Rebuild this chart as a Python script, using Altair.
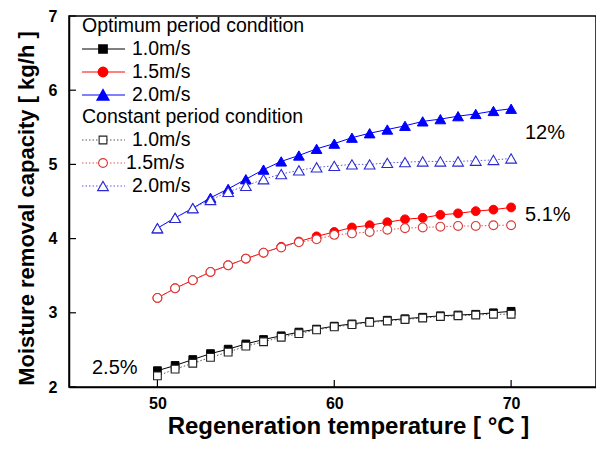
import altair as alt
import pandas as pd

# ---------------- data ----------------
temps = list(range(50, 71))

opt_10 = [2.22, 2.29, 2.37, 2.45, 2.51, 2.58, 2.64, 2.69, 2.74, 2.78, 2.82,
          2.85, 2.88, 2.90, 2.92, 2.94, 2.96, 2.97, 2.98, 3.00, 3.02]
opt_15 = [3.20, 3.33, 3.44, 3.55, 3.64, 3.73, 3.81, 3.89, 3.96, 4.03, 4.09,
          4.15, 4.18, 4.22, 4.26, 4.28, 4.32, 4.34, 4.37, 4.39, 4.42]
opt_20 = [4.14, 4.28, 4.41, 4.55, 4.67, 4.80, 4.93, 5.04, 5.12, 5.21, 5.28,
          5.36, 5.42, 5.47, 5.52, 5.58, 5.61, 5.65, 5.68, 5.72, 5.75]

con_10 = [2.15, 2.24, 2.32, 2.40, 2.47, 2.55, 2.61, 2.67, 2.72, 2.77, 2.81,
          2.84, 2.87, 2.89, 2.91, 2.93, 2.95, 2.96, 2.97, 2.98, 2.98]
con_15 = [3.20, 3.33, 3.44, 3.55, 3.64, 3.73, 3.81, 3.88, 3.95, 3.99, 4.05,
          4.07, 4.09, 4.12, 4.14, 4.15, 4.16, 4.17, 4.17, 4.18, 4.18]
con_20 = [4.14, 4.28, 4.41, 4.52, 4.63, 4.71, 4.80, 4.87, 4.92, 4.96, 4.98,
          5.00, 5.00, 5.02, 5.03, 5.04, 5.04, 5.04, 5.05, 5.06, 5.08]

speed_labels = ["1.0m/s", "1.5m/s", "2.0m/s"]
group_titles = ["Optimum period condition", "Constant period condition"]
percent_labels = ["12%", "5.1%", "2.5%"]
x_tick_values = [50, 60, 70]
y_tick_values = [2, 3, 4, 5, 6, 7]

X_TITLE = "Regeneration temperature [ °C ]"
Y_TITLE = "Moisture removal capacity [ kg/h ]"

# ---------------- styling ----------------
FONT = "Liberation Sans"
W, H = 527, 371
xscale = alt.Scale(domain=[45, 74.8], nice=False, zero=False)
yscale = alt.Scale(domain=[2, 7], nice=False, zero=False)

x_axis = alt.Axis(values=x_tick_values, title=X_TITLE, grid=False,
                  ticks=False, tickSize=0, labelPadding=8,
                  labelFont=FONT, labelFontSize=16, labelFontWeight="bold",
                  labelColor="black", titleFont=FONT, titleFontSize=24,
                  titleFontWeight="bold", titleColor="black", titlePadding=3,
                  titleX=279,
                  domainColor="black", domainWidth=1.5, labelFlush=False)
y_axis = alt.Axis(values=y_tick_values, title=Y_TITLE, grid=False,
                  ticks=False, tickSize=0, labelPadding=12,
                  labelFont=FONT, labelFontSize=16, labelFontWeight="bold",
                  labelColor="black", titleFont=FONT, titleFontSize=22,
                  titleFontWeight="bold", titleColor="black", titlePadding=10,
                  titleY=192,
                  domainColor="black", domainWidth=1.5, labelFlush=False)

opt_colors = ["#000000", "#ff0000", "#0000ff"]
con_line_colors = ["#555555", "#e05a5a", "#5a5ae0"]
con_marker_colors = ["#222222", "#d83a3a", "#2a2ad0"]
shapes = ["square", "circle", "triangle-up"]
sizes = [60, 78, 115]

one = pd.DataFrame({"k": [0]})

layers = []

def series_chart(vals, color, shape, size, filled, dashed, mcolor):
    df = pd.DataFrame({"t": temps, "v": vals})
    base = alt.Chart(df).encode(
        x=alt.X("t:Q", scale=xscale, axis=x_axis),
        y=alt.Y("v:Q", scale=yscale, axis=y_axis),
    )
    if dashed:
        line = base.mark_line(color=color, strokeWidth=1, strokeDash=[1.5, 2])
    else:
        line = base.mark_line(color=color, strokeWidth=1)
    if filled:
        pts = base.mark_point(shape=shape, size=size, filled=True, fill=mcolor,
                              stroke=mcolor, strokeWidth=1, opacity=1)
    else:
        pts = base.mark_point(shape=shape, size=size, filled=False, fill="white",
                              fillOpacity=1, stroke=mcolor, strokeWidth=1.1, opacity=1)
    return [line, pts]

opt_series = [opt_10, opt_15, opt_20]
con_series = [con_10, con_15, con_20]

for i in range(3):
    layers += series_chart(opt_series[i], opt_colors[i], shapes[i], sizes[i], True, False, opt_colors[i])
for i in range(3):
    layers += series_chart(con_series[i], con_line_colors[i], shapes[i], sizes[i], False, True, con_marker_colors[i])

# inward ticks
layers.append(
    alt.Chart(pd.DataFrame({"v": y_tick_values})).mark_rule(color="black", strokeWidth=1.2)
    .encode(y=alt.Y("v:Q", scale=yscale, axis=y_axis), x=alt.value(0), x2=alt.value(7))
)
layers.append(
    alt.Chart(pd.DataFrame({"v": x_tick_values})).mark_rule(color="black", strokeWidth=1.2)
    .encode(x=alt.X("v:Q", scale=xscale, axis=x_axis), y=alt.value(H), y2=alt.value(H - 7))
)

# ---------------- legend (inside plot) ----------------
LEG_FS = 19.5
header_rows = [10, 101]
item_rows = [[33, 56, 79], [124, 147, 170]]
text_x = [[63, 63, 63], [63, 57, 63]]

for g in range(2):
    layers.append(
        alt.Chart(one).mark_text(align="left", baseline="middle", font=FONT,
                                 fontSize=LEG_FS, color="black")
        .encode(x=alt.value(13), y=alt.value(header_rows[g]), text=alt.value(group_titles[g]))
    )
    for i in range(3):
        ry = item_rows[g][i]
        if g == 0:
            lc, mc = opt_colors[i], opt_colors[i]
            rule = alt.Chart(one).mark_rule(color=lc, strokeWidth=1)
        else:
            lc, mc = con_line_colors[i], con_marker_colors[i]
            rule = alt.Chart(one).mark_rule(color=lc, strokeWidth=1, strokeDash=[1.5, 2])
        layers.append(rule.encode(x=alt.value(13), x2=alt.value(56), y=alt.value(ry)))
        if g == 0:
            pt = alt.Chart(one).mark_point(shape=shapes[i], size=sizes[i], filled=True,
                                           fill=mc, stroke=mc, opacity=1)
        else:
            pt = alt.Chart(one).mark_point(shape=shapes[i], size=sizes[i], filled=False,
                                           fill="white", fillOpacity=1, stroke=mc,
                                           strokeWidth=1.1, opacity=1)
        layers.append(pt.encode(x=alt.value(34), y=alt.value(ry)))
        layers.append(
            alt.Chart(one).mark_text(align="left", baseline="middle", font=FONT,
                                     fontSize=LEG_FS, color="black")
            .encode(x=alt.value(text_x[g][i]), y=alt.value(ry), text=alt.value(speed_labels[i]))
        )

# ---------------- percent annotations ----------------
ann_pos = [(456, 117), (456, 199), (23, 352)]
for lab, (ax, ay) in zip(percent_labels, ann_pos):
    layers.append(
        alt.Chart(one).mark_text(align="left", baseline="middle", font=FONT,
                                 fontSize=20, color="black")
        .encode(x=alt.value(ax), y=alt.value(ay), text=alt.value(lab))
    )

chart = alt.layer(*layers).properties(
    width=W, height=H,
    autosize=alt.AutoSizeParams(type="none"),
    padding={"left": 61, "top": 8, "right": 0, "bottom": 54},
    background="white",
).configure_view(stroke="black", strokeWidth=1.5)

chart.save("out.html", embed_options={"renderer": "svg", "actions": False})
